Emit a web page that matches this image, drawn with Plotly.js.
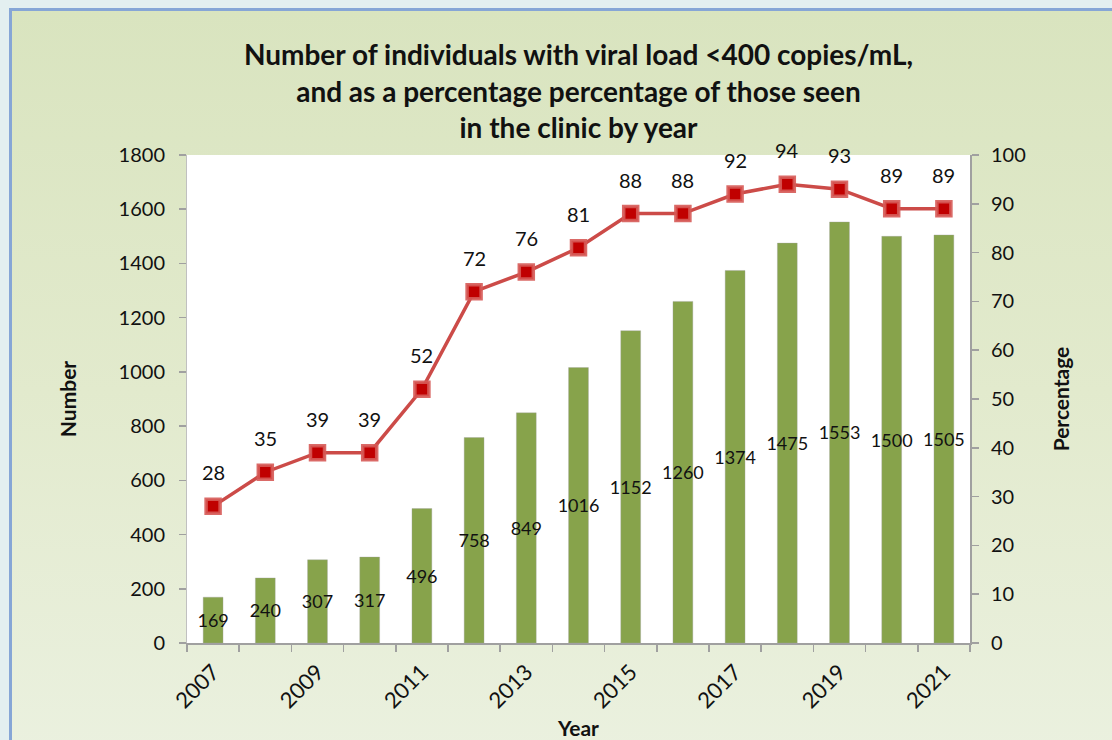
<!DOCTYPE html>
<html>
<head>
<meta charset="utf-8">
<script src="https://cdn.plot.ly/plotly-3.0.1.min.js"></script>
<style>
  html, body { margin: 0; padding: 0; width: 1112px; height: 740px; overflow: hidden; background: #e3eff0; }
  #frame { position: absolute; left: 9px; top: 8px; width: 1120px; height: 760px;
           border-left: 3px solid #86a6d6; border-top: 3px solid #86a6d6;
           background: linear-gradient(to bottom, #d9e4bf 0%, #e2eacd 50%, #ebf1e0 100%); }
  #chart { position: absolute; left: 0; top: 0; width: 1112px; height: 740px; }
</style>
</head>
<body>
<div id="frame"></div>
<div id="chart"></div>
<script>
const years = ['2007','2008','2009','2010','2011','2012','2013','2014','2015','2016','2017','2018','2019','2020','2021'];
const yearLabels = ['2007','','2009','','2011','','2013','','2015','','2017','','2019','','2021'];
const numbers = [169, 240, 307, 317, 496, 758, 849, 1016, 1152, 1260, 1374, 1475, 1553, 1500, 1505];
const percentages = [28, 35, 39, 39, 52, 72, 76, 81, 88, 88, 92, 94, 93, 89, 89];

const FONT = 'Lato, "Open Sans", sans-serif';

const bars = {
  type: 'bar',
  x: years,
  y: numbers,
  text: numbers.map(String),
  textposition: 'inside',
  insidetextanchor: 'middle',
  constraintext: 'none',
  textangle: 0,
  textfont: { family: FONT, size: 18, color: '#111111' },
  marker: { color: '#87a34b', line: { color: 'rgba(160,160,160,0.35)', width: 1 } },
  width: 0.38,
  hoverinfo: 'x+y',
  showlegend: false
};

const line = {
  type: 'scatter',
  mode: 'lines+markers',
  x: years,
  y: percentages,
  yaxis: 'y2',
  line: { color: '#cc4b48', width: 3.5 },
  marker: { symbol: 'square', size: 14, color: '#c00000', line: { color: 'rgba(214,90,86,0.9)', width: 3.5 } },
  showlegend: false
};

const annotations = percentages.map((p, i) => ({
  x: i, y: p, xref: 'x', yref: 'y2',
  text: String(p), showarrow: false, yshift: 34,
  font: { family: FONT, size: 20, color: '#111111' }
}));

const layout = {
  width: 1112,
  height: 740,
  paper_bgcolor: 'rgba(0,0,0,0)',
  plot_bgcolor: '#ffffff',
  margin: { l: 187, r: 142, t: 155, b: 97, pad: 0 },
  title: {
    text: 'Number of individuals with viral load &lt;400 copies/mL,<br>and as a percentage percentage of those seen<br>in the clinic by year',
    font: { family: FONT, size: 28, color: '#111111', weight: 'bold' },
    x: 0.5, xref: 'paper', xanchor: 'center',
    y: 0.912, yref: 'container', yanchor: 'top'
  },
  xaxis: {
    type: 'category',
    range: [-0.5, 14.5],
    tickvals: years,
    ticktext: yearLabels,
    tickson: 'boundaries',
    ticks: 'outside', ticklen: 7, tickcolor: '#a0a0a0', tickwidth: 1.5,
    ticklabelstandoff: 6,
    showline: true, linecolor: '#a0a0a0', linewidth: 1.5,
    showgrid: false, zeroline: false,
    tickangle: -45,
    tickfont: { family: FONT, size: 22, color: '#111111' },
    title: { text: 'Year', font: { family: FONT, size: 21, color: '#111111', weight: 'bold' }, standoff: 10 }
  },
  yaxis: {
    range: [0, 1800], dtick: 200,
    ticks: 'outside', ticklen: 7, tickcolor: '#a0a0a0', tickwidth: 1.5,
    ticklabelstandoff: 10,
    showline: true, linecolor: '#c0c0c0', linewidth: 1,
    showgrid: false, zeroline: false,
    tickfont: { family: FONT, size: 20, color: '#111111' },
    title: { text: 'Number', font: { family: FONT, size: 21, color: '#111111', weight: 'bold' }, standoff: 36 }
  },
  yaxis2: {
    overlaying: 'y', side: 'right',
    range: [0, 100], dtick: 10,
    ticks: 'outside', ticklen: 7, tickcolor: '#a0a0a0', tickwidth: 1.5,
    ticklabelstandoff: 8,
    showline: true, linecolor: '#a0a0a0', linewidth: 2,
    showgrid: false, zeroline: false,
    tickfont: { family: FONT, size: 20, color: '#111111' },
    title: { text: 'Percentage', font: { family: FONT, size: 21, color: '#111111', weight: 'bold' }, standoff: 29 }
  },
  annotations: annotations
};

Plotly.newPlot('chart', [bars, line], layout, { displayModeBar: false, staticPlot: true });
</script>
</body>
</html>
